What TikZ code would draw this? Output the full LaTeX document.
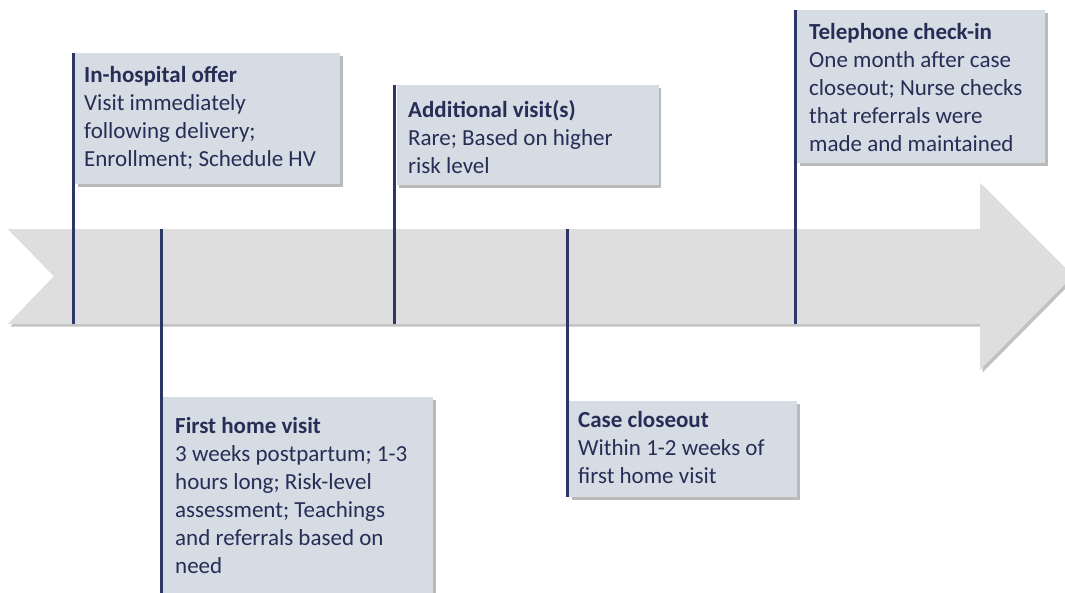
\documentclass[tikz,border=0pt]{standalone}
\usepackage{fontspec}
\setmainfont{Carlito}
\usetikzlibrary{shadows}
\definecolor{boxfill}{HTML}{D5DCE4}
\definecolor{arrowfill}{HTML}{DEDEDE}
\definecolor{navy}{HTML}{2D3766}
\definecolor{txtcol}{HTML}{272D55}
\tikzset{
  box/.style={rectangle, fill=boxfill, draw=none, inner sep=0pt, anchor=north west,
    drop shadow={shadow xshift=2.5pt, shadow yshift=-2.5pt, opacity=0.45, fill=black!60}},
  txt/.style={anchor=north west, inner sep=0pt, align=left, text=txtcol,
    font=\fontsize{23}{28}\selectfont},
  stem/.style={draw=navy, line width=3pt},
}
\newcommand{\ttl}[1]{\strut\textbf{#1}}
\begin{document}
\begin{tikzpicture}[x=1pt,y=-1pt]
\clip (0,0) rectangle (1065,592);
\fill[white] (0,0) rectangle (1065,592);
% timeline arrow
\path[fill=arrowfill, drop shadow={shadow xshift=2.5pt, shadow yshift=-2.5pt, opacity=0.4, fill=black!60}]
  (8,229) -- (980,229) -- (980,183) -- (1073,276) -- (980,370) -- (980,324) -- (8,324) -- (54,276) -- cycle;
\coordinate (atop) at (0,229);
\coordinate (abot) at (0,324);

% 1 In-hospital offer
\node[box, minimum width=265pt, minimum height=131pt] (b1) at (75,53) {};
\node[txt] (t1) at (84,62.4) {\ttl{In-hospital offer}\\Visit immediately\\following delivery;\\Enrollment; Schedule HV};
\coordinate (e1) at (b1.north west -| 73.5,0);
\draw[stem] (73.5,53) coordinate (s1) -- (s1 |- abot);

% 2 First home visit
\node[box, minimum width=270pt, minimum height=220pt] (b2) at (163,397) {};
\node[txt] (t2) at (175,413.4) {\ttl{First home visit}\\3 weeks postpartum; 1-3\\hours long; Risk-level\\assessment; Teachings\\and referrals based on\\need};
\coordinate (s2) at (161.5,600);
\draw[stem] (s2 |- atop) -- (s2);

% 3 Additional visit(s)
\node[box, minimum width=262pt, minimum height=100pt] (b3) at (396.5,85) {};
\node[txt] (t3) at (408,97.4) {\ttl{Additional visit(s)}\\Rare; Based on higher\\risk level};
\draw[stem] (394.5,85) coordinate (s3) -- (s3 |- abot);

% 4 Case closeout
\node[box, minimum width=228pt, minimum height=96pt] (b4) at (569,401) {};
\node[txt] (t4) at (578,407.4) {\ttl{Case closeout}\\Within 1-2 weeks of\\first home visit};
\coordinate (s4) at (567.5,497);
\draw[stem] (s4 |- atop) -- (s4);

% 5 Telephone check-in
\node[box, minimum width=248pt, minimum height=153pt] (b5) at (797,10) {};
\node[txt] (t5) at (809,19.4) {\ttl{Telephone check-in}\\One month after case\\closeout; Nurse checks\\that referrals were\\made and maintained};
\draw[stem] (795.5,10) coordinate (s5) -- (s5 |- abot);
\end{tikzpicture}
\end{document}
